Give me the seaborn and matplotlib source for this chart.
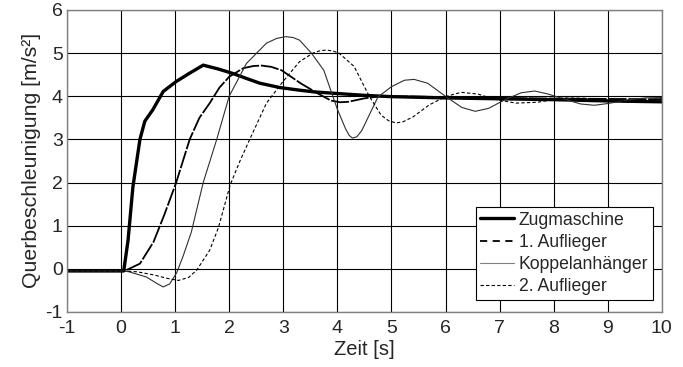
import matplotlib
matplotlib.use('Agg')
import pandas as pd
import seaborn as sns
import matplotlib.pyplot as plt

# Zugmaschine
t_zug = [-1, 0.05, 0.13, 0.22, 0.35, 0.44, 0.59, 0.78, 1.02, 1.25, 1.52, 1.8, 2.06, 2.3, 2.57,
         2.94, 3.3, 3.57, 4.03, 4.5, 5.0, 6.0, 7.0, 8.0, 9.0, 10.0]
a_zug = [-0.05, -0.05, 0.66, 1.9, 3.0, 3.42, 3.69, 4.11, 4.34, 4.52, 4.72, 4.63, 4.53, 4.42, 4.30,
         4.20, 4.14, 4.10, 4.06, 4.02, 3.99, 3.96, 3.94, 3.92, 3.89, 3.87]

# 1. Auflieger
t_auf1 = [-1, 0.1, 0.35, 0.6, 0.8, 1.02, 1.27, 1.45, 1.64, 1.82, 2.0, 2.26, 2.45, 2.6, 2.78, 2.97,
          3.32, 3.63, 3.88, 4.05, 4.2, 4.5, 4.8, 5.5, 6.5, 7.5, 8.5, 10.0]
a_auf1 = [-0.05, -0.03, 0.12, 0.62, 1.25, 2.0, 3.0, 3.5, 3.84, 4.2, 4.45, 4.65, 4.70, 4.71, 4.68, 4.6,
          4.30, 4.07, 3.90, 3.86, 3.87, 3.95, 4.0, 3.99, 3.97, 3.95, 3.94, 3.93]

# Koppelanhänger
t_kop = [-1, 0.05, 0.15, 0.47, 0.65, 0.78, 0.9, 1.03, 1.15, 1.3, 1.52, 1.77, 2.0, 2.32, 2.69,
         2.88, 3.05, 3.18, 3.3, 3.52, 3.75, 4.0, 4.15, 4.22, 4.28, 4.36, 4.45, 4.75, 5.0, 5.24,
         5.42, 5.67, 6.02, 6.3, 6.55, 6.8, 7.1, 7.4, 7.65, 7.9, 8.2, 8.5, 8.75, 9.0, 9.4, 9.7, 10.0]
a_kop = [-0.05, -0.05, -0.07, -0.19, -0.33, -0.42, -0.35, -0.09, 0.3, 0.85, 2.0, 3.0, 4.0, 4.76, 5.23,
         5.34, 5.38, 5.36, 5.3, 5.0, 4.6, 3.7, 3.25, 3.09, 3.03, 3.06, 3.2, 3.98, 4.22, 4.37,
         4.39, 4.30, 3.98, 3.74, 3.65, 3.72, 3.92, 4.08, 4.12, 4.05, 3.93, 3.82, 3.79, 3.83, 3.92, 3.96, 3.97]

# 2. Auflieger
t_auf2 = [-1, 0.05, 0.3, 0.6, 0.85, 1.06, 1.25, 1.4, 1.64, 1.8, 2.02, 2.2, 2.38, 2.69, 2.97,
          3.3, 3.55, 3.67, 3.79, 3.91, 4.03, 4.31, 4.59, 4.81, 4.95, 5.09, 5.22, 5.4, 5.7, 6.02,
          6.29, 6.6, 6.9, 7.3, 7.7, 8.2, 8.6, 9.0, 9.4, 9.8, 10.0]
a_auf2 = [-0.05, -0.05, -0.07, -0.14, -0.22, -0.27, -0.2, -0.03, 0.43, 0.95, 1.95, 2.5, 3.0, 3.84, 4.3,
          4.8, 5.0, 5.05, 5.07, 5.05, 5.0, 4.69, 4.0, 3.56, 3.43, 3.38, 3.41, 3.52, 3.80, 4.0,
          4.09, 4.05, 3.93, 3.84, 3.86, 3.96, 3.95, 3.9, 3.88, 3.92, 3.94]

sns.set_style('white')
plt.rcParams['font.family'] = ['Liberation Sans', 'DejaVu Sans']
plt.rcParams['axes.unicode_minus'] = False

fig, ax = plt.subplots(figsize=(6.83, 3.67), dpi=100)
fig.subplots_adjust(left=0.098, right=0.969, top=0.973, bottom=0.150)

sns.lineplot(x=t_zug, y=a_zug, ax=ax, color='black', linewidth=2.4, sort=False, label='Zugmaschine')
sns.lineplot(x=t_auf1, y=a_auf1, ax=ax, color='black', linewidth=1.3, sort=False, label='1. Auflieger')
ax.lines[-1].set_dashes((10, 1))
sns.lineplot(x=t_kop, y=a_kop, ax=ax, color='#303030', linewidth=0.8, sort=False, label='Koppelanhänger')
sns.lineplot(x=t_auf2, y=a_auf2, ax=ax, color='black', linewidth=0.8, sort=False, label='2. Auflieger')
ax.lines[-1].set_dashes((3, 2))

ax.set_xlim(-1, 10)
ax.set_ylim(-1, 6)
ax.set_xticks(range(-1, 11))
ax.set_yticks(range(-1, 7))
ax.grid(True, color='black', linewidth=0.8)
ax.set_axisbelow(True)
for s in ax.spines.values():
    s.set_color('#808080')
    s.set_linewidth(1.0)
ax.tick_params(labelsize=14, length=0)
ax.tick_params(axis='x', pad=6)
ax.tick_params(axis='y', pad=3)
ax.set_xlabel('Zeit [s]', fontsize=14.5, labelpad=2)
ax.set_ylabel('Querbeschleunigung [m/s²]', fontsize=15.3, labelpad=3)

leg = ax.legend(loc='lower right', bbox_to_anchor=(0.985, 0.04), fontsize=12.7, frameon=True,
                fancybox=False, edgecolor='black', framealpha=1, borderpad=0.25,
                labelspacing=0.3, handlelength=1.9, handletextpad=0.3, borderaxespad=0)
leg.get_frame().set_linewidth(0.8)
hl = leg.get_lines()
hl[1].set_dashes((4, 3))
hl[2].set_color('#808080')

fig.savefig('out.png', dpi=100)
